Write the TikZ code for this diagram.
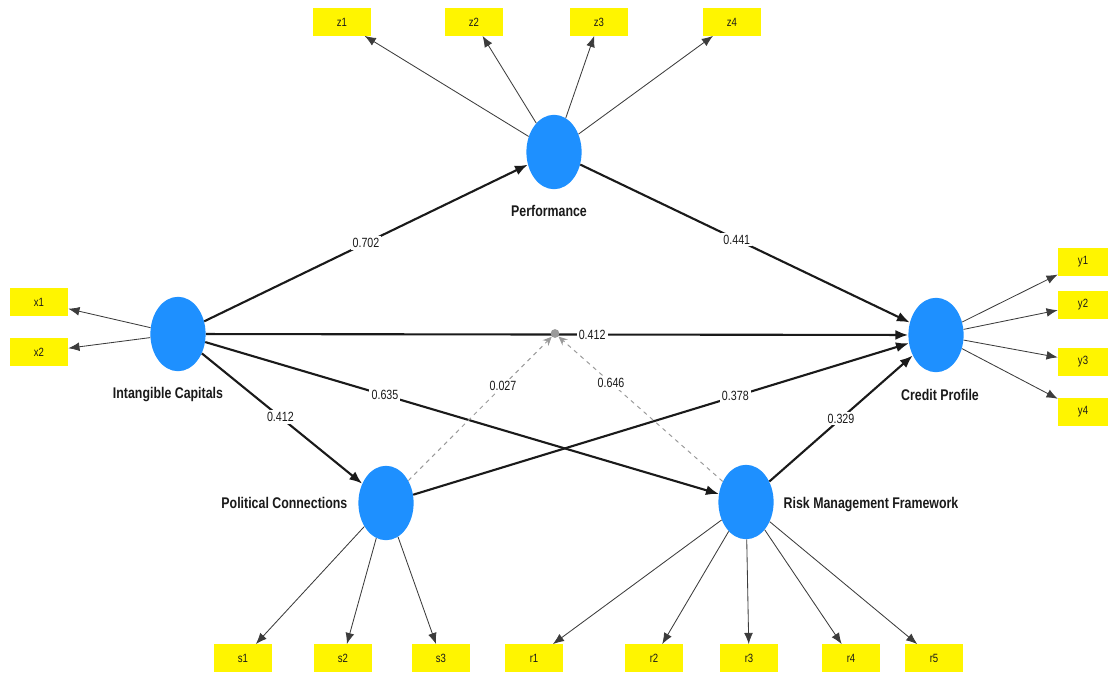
\documentclass[tikz,border=0pt]{standalone}
\usepackage{fontspec}
\setmainfont{Liberation Sans}
\newfontfamily\narrowfont{Liberation Sans}[FakeStretch=0.8]
\usetikzlibrary{arrows.meta,shapes.geometric}
\definecolor{latblue}{HTML}{1E90FF}
\definecolor{indyellow}{HTML}{FFF500}
\definecolor{ink}{HTML}{1A1A1A}
\definecolor{modgray}{HTML}{9A9A9A}
\tikzset{
  latent/.style={ellipse, fill=latblue, draw=none, minimum width=1.38cm,
                 minimum height=1.86cm, inner sep=0pt},
  indicator/.style={fill=indyellow, draw=none, minimum width=1.45cm, minimum height=0.68cm,
                    inner sep=0pt, font=\narrowfont\fontsize{8.5}{9}\selectfont, text=ink},
  latlbl/.style={font=\narrowfont\bfseries\fontsize{11}{13}\selectfont, text=ink, inner sep=1pt},
  coef/.style={fill=white, inner sep=1.5pt, font=\narrowfont\fontsize{9.5}{10}\selectfont, text=ink},
  load/.style={-{Latex[length=2.8mm, width=2.2mm]}, line width=0.6pt, draw=ink!85},
  structarr/.style={-{Latex[length=3.2mm, width=2.5mm]}, line width=1.5pt, draw=ink},
  modarr/.style={-{Stealth[length=2.2mm, width=2mm]}, dashed, line width=0.7pt, draw=modgray},
  moddot/.style={circle, fill=modgray, minimum size=0.22cm, inner sep=0pt},
}

\begin{document}
\begin{tikzpicture}[x=0.025cm, y=-0.025cm]
\useasboundingbox (0,0) rectangle (1108,677);

% --- latent variables ---
\node[latent] (perf) at (554,152) {};
\node[latent] (ic)   at (178,334) {};
\node[latent] (cp)   at (936,335) {};
\node[latent] (pc)   at (386,503) {};
\node[latent] (rmf)  at (746,502) {};

\node[latlbl] (perflbl) at (549,211) {Performance};
\node[latlbl] (iclbl)   at (168,395) {Intangible Capitals};
\node[latlbl] (cplbl)   at (940,395) {Credit Profile};
\node[latlbl, anchor=east] (pclbl)  at (349,503) {Political Connections};
\node[latlbl, anchor=west] (rmflbl) at (782,505) {Risk Management Framework};

% --- indicators ---
\foreach \name/\x in {z1/342, z2/474, z3/599, z4/732}
  \node[indicator] (\name) at (\x,22) {\name};
\foreach \name/\y in {x1/302, x2/352}
  \node[indicator] (\name) at (39,\y) {\name};
\foreach \name/\y in {y1/262, y2/305, y3/362, y4/412}
  \node[indicator, minimum width=1.25cm] (\name) at (1083,\y) {\name};
\foreach \name/\x in {s1/243, s2/343, s3/441}
  \node[indicator] (\name) at (\x,658) {\name};
\foreach \name/\x in {r1/534, r2/654, r3/749, r4/851, r5/934}
  \node[indicator] (\name) at (\x,658) {\name};

% --- outer model ---
\foreach \ind in {z1,z2,z3,z4} \draw[load] (perf) -- (\ind);
\foreach \ind in {x1,x2} \draw[load] (ic) -- (\ind);
\foreach \ind in {y1,y2,y3,y4} \draw[load] (cp) -- (\ind);
\foreach \ind in {s1,s2,s3} \draw[load] (pc) -- (\ind);
\foreach \ind in {r1,r2,r3,r4,r5} \draw[load] (rmf) -- (\ind);

% --- inner model ---
\draw[structarr] (ic) -- node[coef, pos=0.5] {0.702} (perf);
\draw[structarr] (perf) -- node[coef, pos=0.475] {0.441} (cp);
\draw[structarr] (ic) -- node[coef, pos=0.55] {0.412} (cp);
\draw[structarr] (ic) -- node[coef, pos=0.49] {0.412} (pc);
\draw[structarr] (ic) -- node[coef, pos=0.35] {0.635} (rmf);
\draw[structarr] (pc) -- node[coef, pos=0.65] {0.378} (cp);
\draw[structarr] (rmf) -- node[coef, pos=0.5] {0.329} (cp);

% --- moderating effects ---
\node[moddot] (mod) at (555,333.5) {};
\draw[modarr] (pc) -- node[coef, pos=0.66] {0.027} (mod);
\draw[modarr] (rmf) -- node[coef, pos=0.68] {0.646} (mod);

\end{tikzpicture}
\end{document}
